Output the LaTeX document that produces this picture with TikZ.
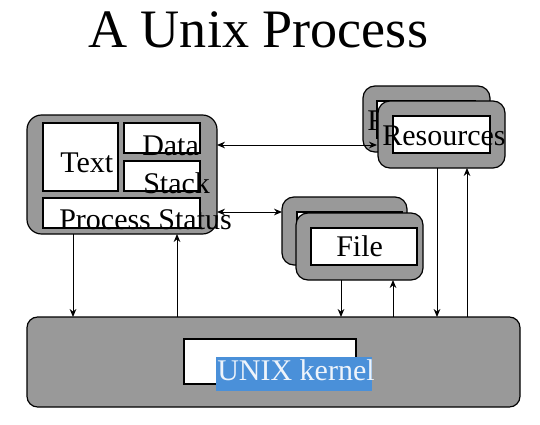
\documentclass[tikz,border=0pt]{standalone}
\usepackage{fontspec}
\setmainfont{Liberation Serif}
\usetikzlibrary{fit,arrows.meta}
\definecolor{boxgray}{HTML}{999999}
\definecolor{hiblue}{HTML}{4A90D9}
\definecolor{hitext}{HTML}{EEF4FB}
\tikzset{
  px/.style={x=0.75pt,y=-0.75pt},
  graybox/.style={draw=black,line width=0.9pt,fill=boxgray,rounded corners=11pt,inner sep=0pt},
  whitebox/.style={draw=black,line width=0.9pt,fill=white,inner sep=0pt},
  lbl/.style={anchor=base west,inner sep=0pt,font=\fontsize{22.5}{24}\selectfont},
  link/.style={line width=0.75pt,-{Stealth[length=6pt,width=5pt]}},
  dlink/.style={line width=0.75pt,{Stealth[length=6pt,width=5pt]}-{Stealth[length=6pt,width=5pt]}},
  plain/.style={line width=0.75pt}
}
\begin{document}
\begin{tikzpicture}[px]
\useasboundingbox (0,0) rectangle (540,425);
% title
\node[anchor=base west,inner sep=0pt,font=\fontsize{40.6}{44}\selectfont] (title) at (88,47) {A Unix Process};

% process box
\node[graybox,fit={(27,115) (217,234)}] (proc) {};
\node[whitebox,fit={(43,123) (118,191)}] (textbox) {};
\node[whitebox,fit={(124,123) (200,153)}] (databox) {};
\node[whitebox,fit={(124,161) (200,191)}] (stackbox) {};
\node[whitebox,fit={(43,198) (200,228)}] (statusbox) {};
\node[lbl] (ltext) at (60,172) {Text};
\node[lbl] (ldata) at (142,155) {Data};
\node[lbl] (lstack) at (143,193) {Stack};
\node[lbl] (lstatus) at (59,229) {Process Status};

% resources (back and front)
\node[graybox,rounded corners=9pt,fit={(363,86) (490,152)}] (resback) {};
\node[whitebox,fit={(377,101) (475,138)}] (resbackin) {};
\node[lbl] (lresback) at (367,130) {Resources};
\node[graybox,rounded corners=9pt,fit={(378,101) (505,168)}] (resfront) {};
\node[whitebox,fit={(393,116) (490,153)}] (resfrontin) {};
\node[lbl] (lresfront) at (382,145) {Resources};

% file (back and front)
\node[graybox,rounded corners=9pt,fit={(282,197) (407,265)}] (fileback) {};
\node[whitebox,fit={(297,212) (402,249)}] (filebackin) {};
\node[graybox,rounded corners=9pt,fit={(296,213) (423,280)}] (filefront) {};
\node[whitebox,fit={(311,228) (417,265)}] (filefrontin) {};
\node[lbl] (lfile) at (336,256) {File};

% kernel
\node[graybox,rounded corners=8pt,fit={(27,317) (520,407)}] (kernel) {};
\node[whitebox,fit={(184,339) (356,384)}] (kernelin) {};
\node[fill=hiblue,inner sep=0pt,fit={(216,357) (372,391)}] (hilite) {};
\node[lbl,text=hitext] (lkernel) at (217,380) {UNIX kernel};

% connectors
\coordinate (pr1) at (217,145);
\coordinate (rs1) at (377,145);
\draw[dlink] (pr1) -- (rs1);
\coordinate (pr2) at (217,212);
\coordinate (fl1) at (282,212);
\draw[dlink] (pr2) -- (fl1);

\draw[link] (73,234) coordinate (pd0) -- (73,317) coordinate (kd0);
\draw[link] (177,317) coordinate (ku0) -- (177,234) coordinate (pu0);
\draw[link] (341,280) coordinate (fd0) -- (341,317) coordinate (kd1);
\draw[link] (393,317) coordinate (ku1) -- (393,280) coordinate (fu0);
\draw[link] (437,168) coordinate (rd0) -- (437,317) coordinate (kd2);
\draw[link] (467,317) coordinate (ku2) -- (467,168) coordinate (ru0);
\end{tikzpicture}
\end{document}
